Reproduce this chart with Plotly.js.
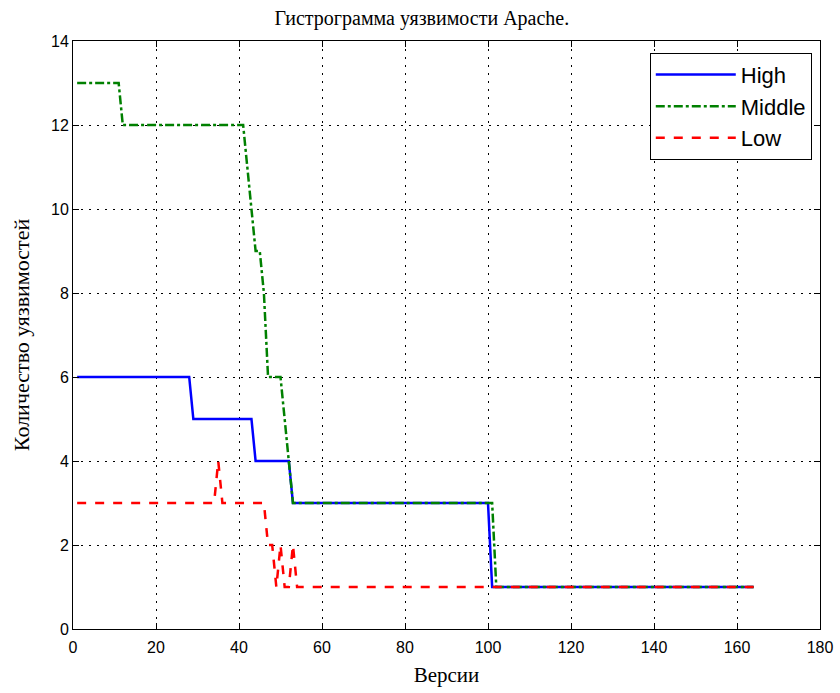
<!DOCTYPE html>
<html>
<head>
<meta charset="utf-8">
<script src="https://cdn.plot.ly/plotly-3.0.1.min.js"></script>
<style>html,body{margin:0;padding:0;background:#fff;}#chart{width:840px;height:693px;}</style>
</head>
<body>
<div id="chart"></div>
<script>
// Breakpoints (version number -> count)
const highX   = [1, 28, 29, 43, 44, 52, 53, 100, 101, 164];
const highY   = [6, 6, 5, 5, 4, 4, 3, 3, 1, 1];
const middleX = [1, 11, 12, 41, 44, 45, 46, 47, 50, 51, 52, 53, 101, 102, 164];
const middleY = [13, 13, 12, 12, 9, 9, 8, 6, 6, 5, 4, 3, 3, 1, 1];
const lowX    = [1, 34, 35, 36, 46, 47, 48, 49, 50, 51, 52, 53, 54, 164];
const lowY    = [3, 3, 4, 3, 3, 2, 2, 1, 2, 1, 1, 2, 1, 1];
const seriesNames = ["High", "Middle", "Low"];
const xTicks = [0, 20, 40, 60, 80, 100, 120, 140, 160, 180];
const yTicks = [0, 2, 4, 6, 8, 10, 12, 14];

const titleText = "Гистрограмма уязвимости Apache.";
const xTitle = "Версии";
const yTitle = "Количество уязвимостей";

const traces = [
  {x: highX, y: highY, name: seriesNames[0], mode: "lines", legendgroup: "a",
   line: {color: "rgb(0,0,255)", width: 2.5, dash: "solid"}},
  {x: middleX, y: middleY, name: seriesNames[1], mode: "lines", legendgroup: "b",
   line: {color: "rgb(0,128,0)", width: 2.5, dash: "dashdot"}},
  {x: lowX, y: lowY, name: seriesNames[2], mode: "lines", legendgroup: "c",
   line: {color: "rgb(255,0,0)", width: 2.5, dash: "dash"}}
];

const serif = "Liberation Serif, Times New Roman, serif";
const sans = "Liberation Sans, Arial, sans-serif";

const axisCommon = {
  showline: true, linecolor: "black", linewidth: 1, mirror: "ticks",
  ticks: "inside", ticklen: 6, tickcolor: "black", tickwidth: 1,
  showgrid: true, gridcolor: "black", gridwidth: 1, griddash: "2px,6px",
  zeroline: false,
  tickfont: {family: sans, size: 16, color: "black"}
};

const layout = {
  width: 840, height: 693,
  paper_bgcolor: "white", plot_bgcolor: "white",
  margin: {l: 73, r: 20, t: 41, b: 64},
  title: {text: titleText, x: 0.467, xref: "paper", xanchor: "center",
          y: 0.974, yref: "container", yanchor: "middle",
          font: {family: serif, size: 20, color: "black"}},
  xaxis: Object.assign({}, axisCommon, {
    range: [0, 180], tickvals: xTicks, ticktext: xTicks.map(String),
    ticklabelstandoff: 4,
    title: {text: xTitle, standoff: 12, font: {family: serif, size: 21, color: "black"}}
  }),
  yaxis: Object.assign({}, axisCommon, {
    range: [0, 14], tickvals: yTicks, ticktext: yTicks.map(String),
    title: {text: yTitle, standoff: 15, font: {family: serif, size: 22, color: "black"}}
  }),
  showlegend: true,
  legend: {
    x: 0.989, y: 0.98, xanchor: "right", yanchor: "top",
    bgcolor: "white", bordercolor: "black", borderwidth: 1,
    itemwidth: 80, tracegroupgap: 0, traceorder: "grouped",
    font: {family: sans, size: 22, color: "black"}
  }
};

Plotly.newPlot("chart", traces, layout, {displayModeBar: false, staticPlot: true});
</script>
</body>
</html>
